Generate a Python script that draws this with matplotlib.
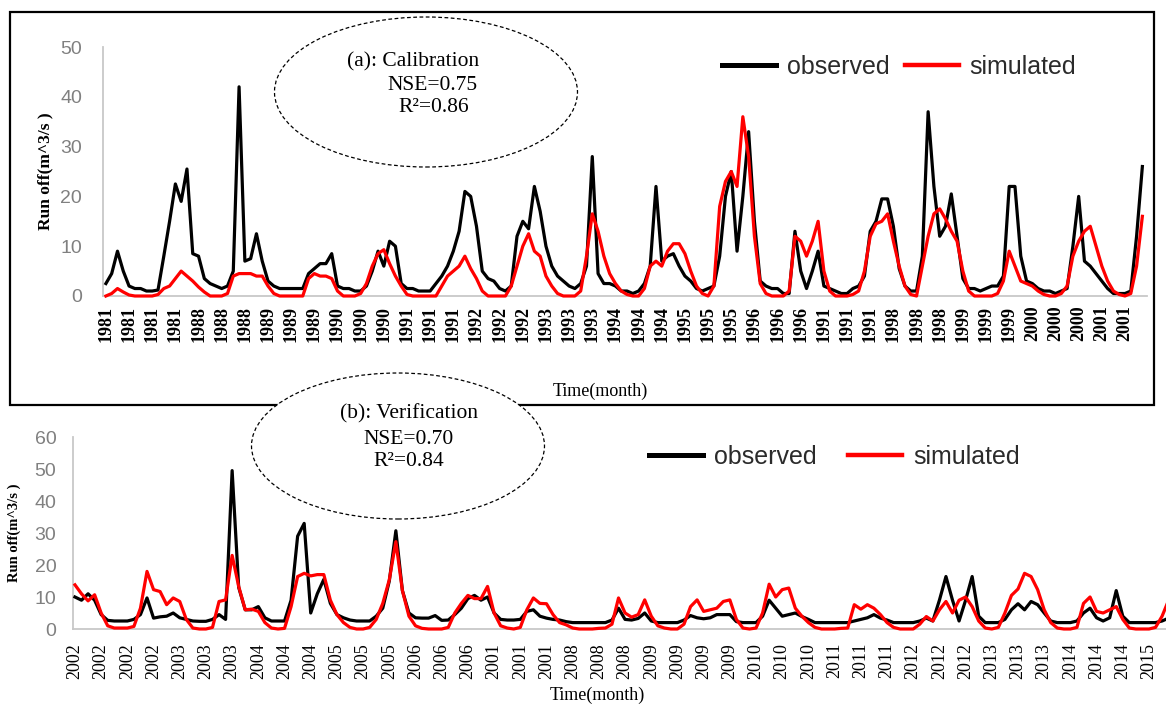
import matplotlib
matplotlib.use('Agg')
import matplotlib.pyplot as plt
from matplotlib.patches import Ellipse, Rectangle
from matplotlib.lines import Line2D

# ---------------- data ----------------
cal_ticklabels = ['1981', '1981', '1981', '1981', '1988', '1988', '1988', '1989', '1989', '1989',
                  '1990', '1990', '1990', '1991', '1991', '1991', '1992', '1992', '1992', '1993',
                  '1993', '1993', '1994', '1994', '1994', '1995', '1995', '1995', '1996', '1996',
                  '1996', '1991', '1991', '1991', '1998', '1998', '1998', '1999', '1999', '1999',
                  '2000', '2000', '2000', '2001', '2001']

cal_observed = [
    2.5, 4.5, 9, 5, 2, 1.5, 1.5, 1, 1, 1.2,
    8, 15, 22.5, 19, 25.5, 8.5, 8, 3.5, 2.5, 2,
    1.5, 2, 5, 42, 7, 7.5, 12.5, 7, 3, 2,
    1.5, 1.5, 1.5, 1.5, 1.5, 4.5, 5.5, 6.5, 6.5, 8.5,
    2, 1.5, 1.5, 1, 1, 2, 5, 9, 6, 11,
    10, 2.5, 1.5, 1.5, 1, 1, 1, 2.5, 4, 6,
    9, 13, 21, 20, 14, 5, 3.5, 3, 1.5, 1,
    2, 12, 15, 13.5, 22, 17, 10, 6, 4, 3,
    2, 1.5, 2.5, 6, 28, 4.5, 2.5, 2.5, 2, 1,
    1, 0.5, 1, 2.5, 6, 22, 7, 8, 8.5, 6,
    4, 3, 1.5, 1, 1.5, 2, 8, 20, 25, 9,
    20, 33, 15, 3, 2, 1.5, 1.5, 0.5, 0.5, 13,
    5, 1.5, 5, 9, 2, 1.5, 1, 0.5, 0.5, 1.5,
    2, 4, 13, 15, 19.5, 19.5, 14, 5.5, 2, 1,
    1, 8, 37, 22, 12, 14, 20.5, 12, 3.5, 1.5,
    1.5, 1, 1.5, 2, 2, 4, 22, 22, 8, 3,
    2.5, 1.5, 1, 1, 0.5, 1, 1.5, 10, 20, 7,
    6, 4.5, 3, 1.5, 0.5, 0.5, 0.5, 1, 12, 26,
]

cal_simulated = [
    0, 0.5, 1.5, 0.8, 0.2, 0, 0, 0, 0, 0.3,
    1.5, 2, 3.5, 5, 4, 3, 1.8, 0.8, 0, 0,
    0, 0.5, 4, 4.5, 4.5, 4.5, 4, 4, 2, 0.5,
    0, 0, 0, 0, 0, 3.5, 4.5, 4, 4, 3.5,
    1, 0, 0, 0, 0.5, 2.5, 6, 8.5, 9.3, 6.5,
    4, 2, 0.3, 0, 0, 0, 0, 0, 2, 4,
    5, 6, 8, 5.5, 3.5, 1, 0, 0, 0, 0,
    2, 6, 10, 12.5, 9, 8, 4, 2, 0.5, 0,
    0, 0, 1, 8, 16.5, 13, 8, 4.5, 2.5, 1,
    0.3, 0, 0, 1.5, 6, 7, 6, 9, 10.5, 10.5,
    8.5, 5, 2, 0.5, 0, 2, 18, 23, 25, 22,
    36, 28, 12, 2.5, 0.5, 0, 0, 0, 1, 12,
    11, 8, 11, 15, 5, 1, 0, 0, 0, 0.3,
    1, 5, 12, 14.5, 15, 16.5, 11, 6, 2, 0.3,
    0, 6, 12, 16.5, 17.5, 15.5, 13, 11, 5, 1,
    0, 0, 0, 0, 0.5, 3, 9, 6, 3, 2.5,
    2, 1, 0.3, 0, 0, 0.5, 2, 8, 11, 13,
    14, 10, 6, 3, 1, 0.3, 0, 0.5, 6, 16,
]

ver_ticklabels = ['2002', '2002', '2002', '2002', '2003', '2003', '2003', '2004', '2004', '2004',
                  '2005', '2005', '2005', '2006', '2006', '2006', '2001', '2001', '2001', '2008',
                  '2008', '2008', '2009', '2009', '2009', '2009', '2010', '2010', '2010', '2011',
                  '2011', '2011', '2012', '2012', '2012', '2013', '2013', '2013', '2014', '2014',
                  '2014', '2015']

ver_observed = [
    10, 9, 11, 9, 4.5, 2.7, 2.5, 2.5, 2.5, 3,
    4.5, 9.7, 3.4, 3.8, 4, 5, 3.5, 3, 2.5, 2.4,
    2.4, 3, 4.5, 3, 49.5, 13, 6, 6, 7, 3.5,
    2.5, 2.5, 2.5, 9, 29, 33, 5, 11, 15.5, 8,
    4.5, 3.5, 2.8, 2.5, 2.5, 2.5, 4, 6.5, 15, 30.7,
    12, 5, 3.5, 3.4, 3.4, 4.2, 2.7, 2.8, 4.5, 6.5,
    9.5, 10.5, 9, 10, 5, 3, 2.8, 2.8, 3, 5.5,
    6, 4, 3.4, 3, 2.8, 2.3, 2, 2, 2, 2,
    2, 2, 2.8, 6.5, 3, 2.8, 3.3, 5, 2.5, 2,
    2, 2, 2, 2.8, 4.2, 3.5, 3.2, 3.5, 4.5, 4.5,
    4.5, 2.3, 2, 2, 2, 4, 9, 6.5, 4, 4.5,
    5, 3.9, 3, 2, 2, 2, 2, 2, 2, 2.5,
    3, 3.5, 4.5, 3.4, 2.8, 2, 2, 2, 2, 2.5,
    3.4, 2.5, 9, 16.4, 9, 2.5, 9, 16.4, 4, 2,
    2, 2, 3, 6, 7.9, 6, 8.6, 7.6, 5, 2.5,
    2, 2, 2, 2.5, 5, 6.5, 3.5, 2.5, 3.5, 12,
    4, 2, 2, 2, 2, 2, 2.5, 3.4,
]

ver_simulated = [
    13.8, 11, 8.8, 10.7, 5, 1, 0.3, 0.3, 0.3, 0.8,
    6.5, 18, 12.3, 11.7, 7.6, 9.7, 8.6, 3, 0.3, 0,
    0, 0.5, 8.6, 9.1, 23, 13.3, 6, 6.2, 5.5, 2,
    0.3, 0, 0.2, 7, 16.4, 17.4, 16.6, 17, 17, 9,
    4.5, 2, 0.5, 0, 0, 0.5, 3, 8, 15.4, 27.3,
    12, 4, 1, 0.2, 0, 0, 0, 0.5, 5, 8,
    10.5, 9.5, 9.5, 13.3, 5, 1, 0.3, 0, 0.5, 6,
    9.7, 8, 7.9, 4.5, 2, 1.3, 0.3, 0, 0, 0,
    0.2, 0.3, 1.5, 9.7, 5, 3.7, 4.5, 9.1, 4, 1,
    0.3, 0, 0, 1.5, 7, 9.1, 5.5, 6, 6.5, 8.6,
    9.1, 3, 0.3, 0, 0.3, 5, 14, 10, 12.3, 12.8,
    6.5, 4, 2, 0.5, 0, 0, 0, 0.2, 0.3, 7.6,
    6.2, 7.6, 6.5, 4.5, 2, 0.5, 0, 0, 0, 1.5,
    3.9, 2.5, 6, 8.6, 5, 9, 10, 7, 2.5, 0.3,
    0, 0.5, 5, 10.5, 12.5, 17.4, 16.4, 12.3, 6, 2,
    0.3, 0, 0, 0.5, 8, 10, 5.5, 5, 6, 7,
    3, 0.3, 0, 0, 0, 0.5, 4, 9,
]

series_names = ['observed', 'simulated']
cal_stats = ['(a): Calibration', 'NSE=0.75', 'R\u00b2=0.86']
ver_stats = ['(b): Verification', 'NSE=0.70', 'R\u00b2=0.84']

# ---------------- layout ----------------
W, H = 1166, 711
fig = plt.figure(figsize=(W / 100, H / 100), dpi=100)


def px_rect(l, t, r, b):
    return [l / W, 1 - b / H, (r - l) / W, (b - t) / H]


SERIF = 'Liberation Serif'
SANS = 'Liberation Sans'
GRAY = '#c8c8c8'


def style_axes(ax, xmin, xmax, labels, ymax, ylabel_x, ylabel_size,
               ytick_pad, xtick_pad, bold):
    ax.set_xlim(xmin, xmax)
    ax.set_ylim(0, ymax)
    for s in ('top', 'right'):
        ax.spines[s].set_visible(False)
    for s in ('left', 'bottom'):
        ax.spines[s].set_color(GRAY)
        ax.spines[s].set_linewidth(1.3)
    ax.set_yticks(range(0, ymax + 1, 10))
    ax.set_xticks(range(0, 4 * len(labels), 4))
    ax.set_xticklabels(labels, rotation=90, fontfamily=SERIF,
                       fontweight='bold' if bold else 'normal', fontsize=13)
    for t in ax.get_yticklabels():
        t.set_fontfamily(SANS)
        t.set_fontsize(14)
        t.set_color('#808080')
    ax.tick_params(axis='both', length=0)
    ax.tick_params(axis='y', pad=ytick_pad)
    ax.tick_params(axis='x', pad=xtick_pad)
    ax.set_ylabel('Run off(m^3/s )', fontfamily=SERIF, fontweight='bold',
                  fontsize=ylabel_size)
    ax.yaxis.set_label_coords(ylabel_x, 0.5)
    ax.patch.set_alpha(0)


# top panel (calibration)
ax1 = fig.add_axes(px_rect(103, 47, 1147, 296))
ax1.plot(range(len(cal_observed)), cal_observed, color='black', lw=2.3,
         clip_on=False, solid_joinstyle='round', zorder=3)
ax1.plot(range(len(cal_simulated)), cal_simulated, color='#ff0000', lw=2.3,
         clip_on=False, solid_joinstyle='round', zorder=4)
style_axes(ax1, -0.5, 179.8, cal_ticklabels, 50, (53 - 103) / (1147 - 103), 12.5,
           15, 7, True)
ax1.set_xlabel('Time(month)', fontfamily=SERIF, fontsize=13)
ax1.xaxis.set_label_coords((600 - 103) / (1147 - 103), -(391 - 296) / (296 - 47))
ax1.xaxis.label.set_va('center')

# bottom panel (verification)
ax2 = fig.add_axes(px_rect(73, 437, 1166, 629))
ax2.plot(range(len(ver_observed)), ver_observed, color='black', lw=2.3,
         clip_on=False, solid_joinstyle='round', zorder=3)
ax2.plot(range(len(ver_simulated)), ver_simulated, color='#ff0000', lw=2.3,
         clip_on=False, solid_joinstyle='round', zorder=4)
style_axes(ax2, -0.3, 166.6, ver_ticklabels, 60, (21 - 73) / (1166 - 73), 10.5,
           12, 10, False)
ax2.set_xlabel('Time(month)', fontfamily=SERIF, fontsize=13)
ax2.xaxis.set_label_coords((597 - 73) / (1166 - 73), -(695 - 629) / (629 - 437))
ax2.xaxis.label.set_va('center')

# legends
for ax, anchor, colsp in ((ax1, (722, 67), 0.6), (ax2, (649, 457), 1.25)):
    handles = [Line2D([], [], color='black', lw=3.6), Line2D([], [], color='#ff0000', lw=3.2)]
    leg = ax.legend(handles, series_names, ncol=2, frameon=False,
                    loc='center left', bbox_to_anchor=(anchor[0] / W, 1 - anchor[1] / H),
                    bbox_transform=fig.transFigure, borderaxespad=0, borderpad=0,
                    handlelength=2.16, handletextpad=0.44, columnspacing=colsp,
                    prop={'family': SANS, 'size': 18})
    for t in leg.get_texts():
        t.set_color('#2b2b2b')

# frame round the top panel
fig.add_artist(Rectangle((10 / W, 1 - 405 / H), (1154 - 10) / W, (405 - 12) / H,
                         transform=fig.transFigure, fill=False, lw=1.6,
                         edgecolor='black', zorder=5))

# dashed ellipses with statistics
for (cx, cy, ew, eh), stats, lines in (
        ((426, 92, 303, 150), cal_stats, [(413, 62), (433, 86), (434, 108)]),
        ((398, 446, 293, 146), ver_stats, [(409, 414), (409, 439), (409, 461)])):
    fig.add_artist(Ellipse((cx / W, 1 - cy / H), ew / W, eh / H, transform=fig.transFigure,
                           facecolor='white', edgecolor='black', lw=0.9,
                           linestyle=(0, (3, 2)), zorder=6))
    for txt, (tx, ty) in zip(stats, lines):
        fig.text(tx / W, 1 - ty / H, txt, ha='center', va='center',
                 fontfamily=SERIF, fontsize=15.5, zorder=7)

fig.savefig('out.png', dpi=100)
